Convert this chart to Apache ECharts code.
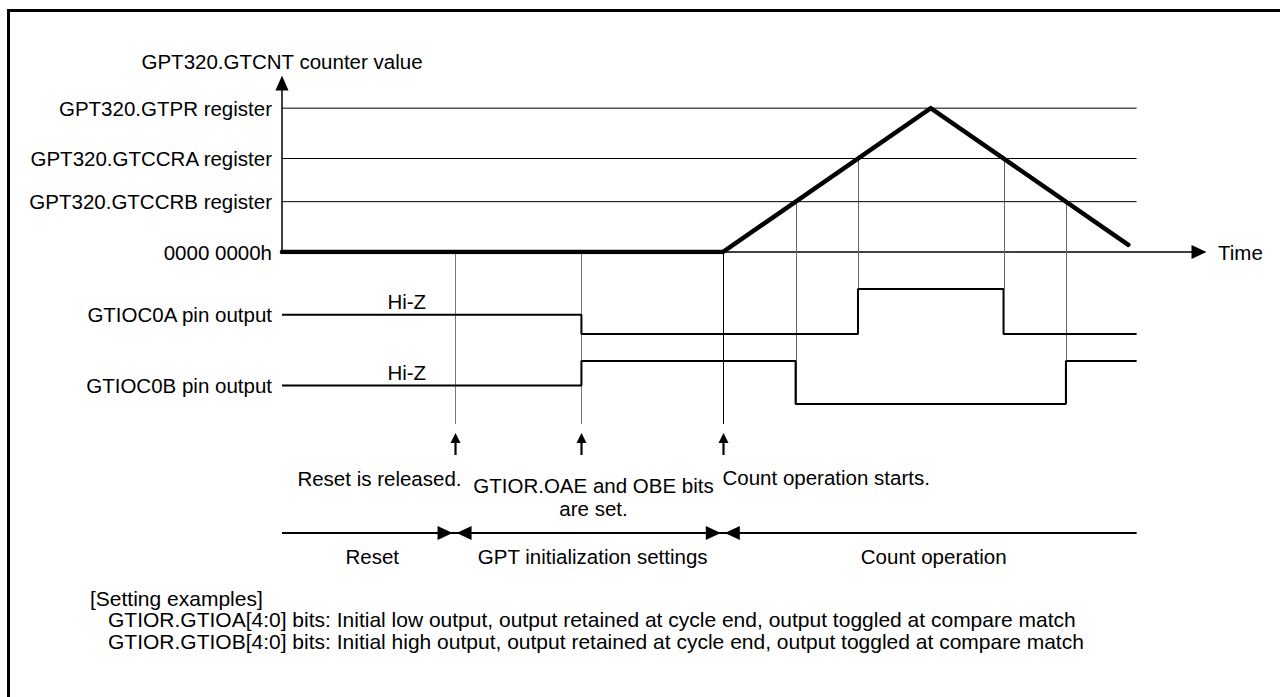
<!DOCTYPE html>
<html><head><meta charset="utf-8">
<script src="https://cdn.jsdelivr.net/npm/echarts@6/dist/echarts.min.js"></script>
<style>html,body{margin:0;padding:0;background:#fff}#c{width:1280px;height:697px}</style>
</head><body><div id="c"></div>
<script>
// ---------------- data ----------------
const registerLabels = ['GPT320.GTPR register', 'GPT320.GTCCRA register', 'GPT320.GTCCRB register', '0000 0000h'];
const registerValues = [100, 65, 35, 0];
const counterTimes  = [0, 212, 312, 407];
const counterValues = [0, 0, 100, 5];
const waveEnd = 411;
const axisTimeMax = 441;
const axisCountMax = 117.5;

const eventTimes = [83, 144, 212];
const eventTexts = [['Reset is released.'], ['GTIOR.OAE and OBE bits', 'are set.'], ['Count operation starts.']];

const matchTimes = [247, 277, 347, 377];
const matchRegisterValues = [35, 65, 65, 35];
const matchPin = [1, 0, 0, 1]; // 0 = GTIOC0A, 1 = GTIOC0B

const signalLabels = ['GTIOC0A pin output', 'GTIOC0B pin output'];
const gtioc0aTimes  = [0, 144, 277, 347, 411];
const gtioc0aLevels = ['Z', 0, 1, 0, 0];
const gtioc0bTimes  = [0, 144, 247, 377, 411];
const gtioc0bLevels = ['Z', 1, 0, 1, 1];
const hiZText = 'Hi-Z';
const hiZTextTime = 60;

const phaseLabels = ['Reset', 'GPT initialization settings', 'Count operation'];
const phaseBounds = [0, 83, 212, 411];

const notesTitle = '[Setting examples]';
const notes = [
  'GTIOR.GTIOA[4:0] bits: Initial low output, output retained at cycle end, output toggled at compare match',
  'GTIOR.GTIOB[4:0] bits: Initial high output, output retained at cycle end, output toggled at compare match'
];

// ---------------- layout / style ----------------
const FONT = '"Liberation Sans", Arial, sans-serif';
const FS = 20.5;
const FS_NOTE = 21;
const HIZ = 0.43;
const L = 282, W = 917;
const toLevel = v => (v === 'Z' ? HIZ : v);
const zip = (t, v) => t.map((x, i) => [x, toLevel(v[i])]);

const chart = echarts.init(document.getElementById('c'), null, {renderer: 'svg'});

const hidden = {show: false};
const option = {
  animation: false,
  backgroundColor: '#fff',
  grid: [
    {left: L, width: W, top: 83, height: 169},
    {left: L, width: W, top: 289, height: 45},
    {left: L, width: W, top: 361, height: 43}
  ],
  xAxis: [
    {gridIndex: 0, type: 'value', min: 0, max: axisTimeMax,
     name: 'Time', nameLocation: 'end', nameGap: 19,
     nameTextStyle: {fontSize: FS, color: '#000', fontFamily: FONT},
     axisLine: {show: true, symbol: ['none', 'triangle'], symbolSize: [14, 15], lineStyle: {color: '#000', width: 1.5}},
     axisTick: hidden, axisLabel: hidden, splitLine: hidden},
    {gridIndex: 1, type: 'value', min: 0, max: axisTimeMax, show: false},
    {gridIndex: 2, type: 'value', min: 0, max: axisTimeMax, show: false}
  ],
  yAxis: [
    {gridIndex: 0, type: 'value', min: 0, max: axisCountMax,
     name: 'GPT320.GTCNT counter value', nameLocation: 'end', nameGap: 11,
     nameTextStyle: {fontSize: FS, color: '#000', fontFamily: FONT},
     axisLine: {show: true, symbol: ['none', 'triangle'], symbolSize: [13, 15], lineStyle: {color: '#000', width: 1.5}},
     axisTick: hidden, axisLabel: hidden, splitLine: hidden},
    {gridIndex: 1, type: 'value', min: 0, max: 1, show: false},
    {gridIndex: 2, type: 'value', min: 0, max: 1, show: false}
  ],
  series: []
};

registerValues.forEach((v, i) => {
  if (v > 0) option.series.push({
    name: registerLabels[i], type: 'line', xAxisIndex: 0, yAxisIndex: 0,
    data: [[0, v], [waveEnd, v]], symbol: 'none', silent: true, z: 2,
    lineStyle: {color: '#000', width: 1}
  });
});
option.series.push({
  name: 'GTCNT', type: 'line', xAxisIndex: 0, yAxisIndex: 0,
  data: counterTimes.map((t, i) => [t, counterValues[i]]), symbol: 'none', z: 5,
  lineStyle: {color: '#000', width: 4.5, cap: 'round', join: 'miter'}
});
option.series.push({
  name: signalLabels[0], type: 'line', xAxisIndex: 1, yAxisIndex: 1, step: 'end',
  data: zip(gtioc0aTimes, gtioc0aLevels), symbol: 'none', z: 5,
  lineStyle: {color: '#000', width: 2}
});
option.series.push({
  name: signalLabels[1], type: 'line', xAxisIndex: 2, yAxisIndex: 2, step: 'end',
  data: zip(gtioc0bTimes, gtioc0bLevels), symbol: 'none', z: 5,
  lineStyle: {color: '#000', width: 2}
});

chart.setOption(option);

// ---------------- annotations via the chart's own scales ----------------
const px = (g, p) => chart.convertToPixel({gridIndex: g}, p);
const g = [];
const txt = (x, y, text, align, size, lh) => g.push({
  type: 'text', x, y, z: 100, silent: true,
  style: {text, fill: '#000', font: (size || FS) + 'px ' + FONT, lineHeight: lh || undefined,
          align, verticalAlign: 'middle', textAlign: align, textVerticalAlign: 'middle'}
});
const line = (x1, y1, x2, y2, stroke, w) => g.push({
  type: 'line', z: 1, silent: true, shape: {x1, y1, x2, y2}, style: {stroke, lineWidth: w}
});
const tri = (pts) => g.push({type: 'polygon', z: 3, silent: true, shape: {points: pts}, style: {fill: '#000'}});

// frame
line(8.5, 10.5, 8.5, 697, '#000', 3);
line(7, 10.5, 1280, 10.5, '#000', 3);

// register labels
registerValues.forEach((v, i) => {
  const p = px(0, [0, v]);
  txt(p[0] - 10, p[1], registerLabels[i], 'right');
});
// signal labels + Hi-Z
[0, 1].forEach(i => {
  const p = px(i + 1, [0, HIZ]);
  txt(p[0] - 10, p[1], signalLabels[i], 'right');
  const h = px(i + 1, [hiZTextTime, HIZ]);
  txt(h[0], h[1] - 13, hiZText, 'center');
});

// event guides, arrows and texts
const EV_BOTTOM = 424;
eventTimes.forEach((t, i) => {
  const p = px(0, [t, 0]);
  const x = Math.round(p[0]) + 0.5;
  line(x, p[1], x, EV_BOTTOM, i === 2 ? '#000' : '#777', 1);
  line(x, 455, x, 440, '#000', 2.2);
  tri([[x, 433], [x - 5, 443], [x + 5, 443]]);
  const lines = eventTexts[i];
  if (i === 0) txt(x + 6, 478, lines[0], 'right');
  else if (i === 1) { txt(x + 12, 485, lines[0], 'center'); txt(x + 12, 508, lines[1], 'center'); }
  else txt(x - 1, 477, lines[0], 'left');
});

// compare-match guides
matchTimes.forEach((t, i) => {
  const top = px(0, [t, matchRegisterValues[i]]);
  const bot = matchPin[i] === 0 ? px(1, [t, 1]) : px(2, [t, 0]);
  const x = Math.round(top[0]) + 0.5;
  line(x, top[1], x, bot[1], '#666', 1);
});

// phase timeline
const PY = 533;
const xs = phaseBounds.map(t => px(0, [t, 0])[0]);
line(xs[0], PY, xs[3], PY, '#000', 2);
[1, 2].forEach(k => {
  const b = xs[k];
  tri([[b - 2, PY], [b - 17, PY - 7], [b - 17, PY + 7]]);
  tri([[b + 2, PY], [b + 17, PY - 7], [b + 17, PY + 7]]);
});
phaseLabels.forEach((s, k) => txt((xs[k] + xs[k + 1]) / 2 + 4, 556, s, 'center'));

// notes
txt(90, 598, notesTitle, 'left', FS_NOTE);
txt(108, 630, notes.join('\n'), 'left', FS_NOTE, 22);

chart.setOption({graphic: {elements: g}});
</script>
</body></html>
